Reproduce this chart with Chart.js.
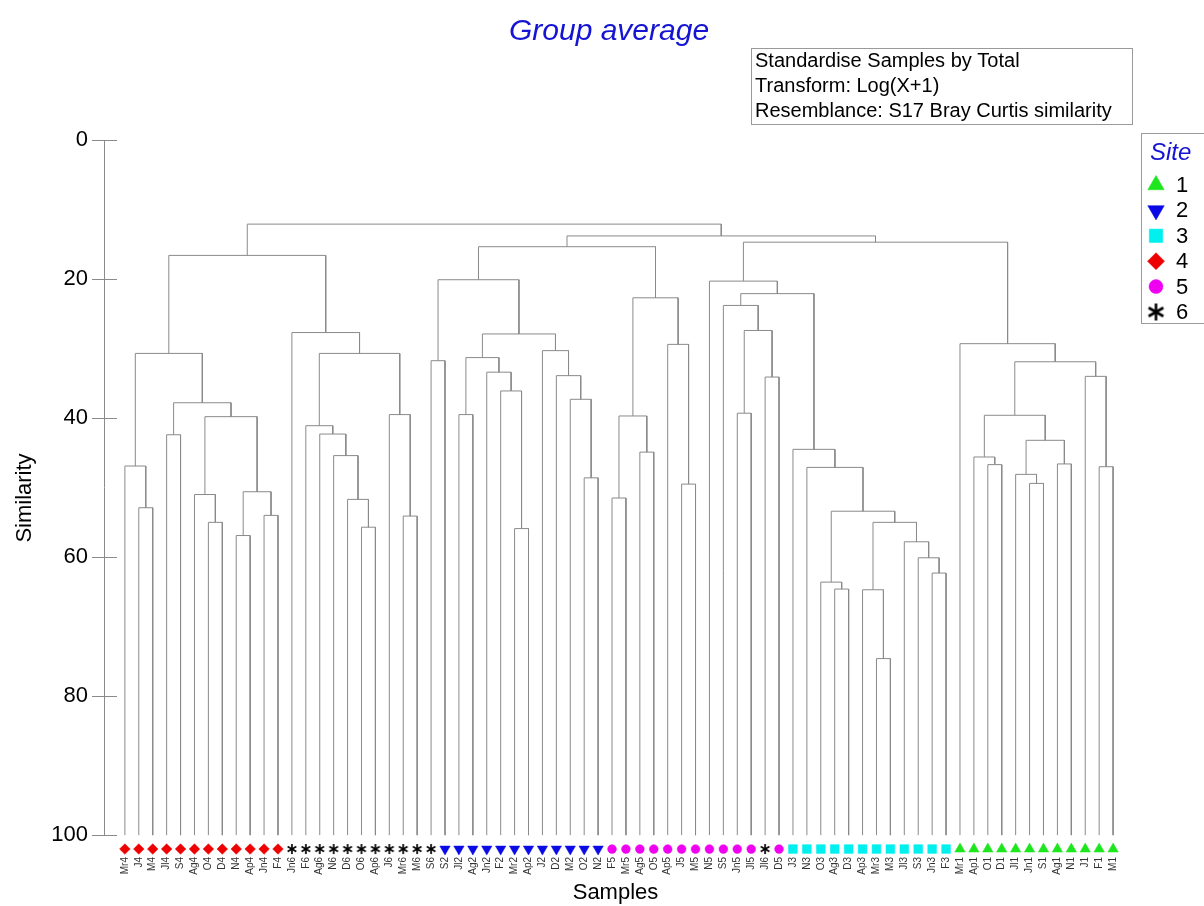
<!DOCTYPE html>
<html>
<head>
<meta charset="utf-8">
<title>Group average</title>
<script src="https://cdn.jsdelivr.net/npm/chart.js@4/dist/chart.umd.min.js"></script>
<style>
  html, body { margin: 0; padding: 0; background: #ffffff; }
  #wrap { width: 1204px; height: 906px; }
</style>
</head>
<body>
<div id="wrap"><canvas id="dendro" width="1204" height="906"></canvas></div>
<script>
// Leaf order of the dendrogram (the last digit of each sample is its site)
const samples = [
  "Mr4","J4","M4","Jl4","S4","Ag4","O4","D4","N4","Ap4","Jn4","F4",
  "Jn6","F6","Ag6","N6","D6","O6","Ap6","J6","Mr6","M6","S6",
  "S2","Jl2","Ag2","Jn2","F2","Mr2","Ap2","J2","D2","M2","O2","N2",
  "F5","Mr5","Ag5","O5","Ap5","J5","M5","N5","S5","Jn5","Jl5",
  "Jl6","D5",
  "J3","N3","O3","Ag3","D3","Ap3","Mr3","M3","Jl3","S3","Jn3","F3",
  "Mr1","Ap1","O1","D1","Jl1","Jn1","S1","Ag1","N1","J1","F1","M1"
];

// Site legend entries
const sites = ["1", "2", "3", "4", "5", "6"];

// Cluster joins: [cluster, left member, right member, similarity %]
const clusterJoins = [
  ["c1","J4","M4",52.9], ["c2","Mr4","c1",46.9], ["c3","Jl4","S4",42.4],
  ["c4","O4","D4",55.0], ["c5","Ag4","c4",51.0], ["c6","N4","Ap4",56.9],
  ["c7","Jn4","F4",54.0], ["c8","c6","c7",50.6], ["c9","c5","c8",39.8],
  ["c10","c3","c9",37.8], ["c11","c2","c10",30.7],
  ["c12","O6","Ap6",55.7], ["c13","D6","c12",51.7], ["c14","N6","c13",45.4],
  ["c15","Ag6","c14",42.3], ["c16","F6","c15",41.1], ["c17","Mr6","M6",54.1],
  ["c18","J6","c17",39.5], ["c19","c16","c18",30.7], ["c20","Jn6","c19",27.7],
  ["c21","c11","c20",16.6],
  ["c22","S6","S2",31.75], ["c23","Jl2","Ag2",39.5], ["c24","Mr2","Ap2",55.9],
  ["c25","F2","c24",36.1], ["c26","Jn2","c25",33.4], ["c27","c23","c26",31.3],
  ["c28","O2","N2",48.6], ["c29","M2","c28",37.3], ["c30","D2","c29",33.9],
  ["c31","J2","c30",30.3], ["c32","c27","c31",27.9], ["c33","c22","c32",20.1],
  ["c34","F5","Mr5",51.5], ["c35","Ag5","O5",44.9], ["c36","c34","c35",39.7],
  ["c37","J5","M5",49.5], ["c38","Ap5","c37",29.4], ["c39","c36","c38",22.7],
  ["c40","c33","c39",15.35],
  ["c41","Jn5","Jl5",39.3], ["c42","Jl6","D5",34.1], ["c43","c41","c42",27.4],
  ["c44","S5","c43",23.8],
  ["c45","Mr3","M3",74.6], ["c46","Ap3","c45",64.7], ["c47","Jn3","F3",62.3],
  ["c48","S3","c47",60.1], ["c49","Jl3","c48",57.8], ["c50","c46","c49",55.0],
  ["c51","Ag3","D3",64.6], ["c52","O3","c51",63.6], ["c53","c52","c50",53.4],
  ["c54","N3","c53",47.1], ["c55","J3","c54",44.5], ["c56","c44","c55",22.1],
  ["c57","N5","c56",20.3],
  ["c58","O1","D1",46.7], ["c59","Ap1","c58",45.6], ["c60","Jn1","S1",49.4],
  ["c61","Jl1","c60",48.1], ["c62","Ag1","N1",46.6], ["c63","c61","c62",43.2],
  ["c64","c59","c63",39.6], ["c65","F1","M1",47.0], ["c66","J1","c65",34.0],
  ["c67","c64","c66",31.9], ["c68","Mr1","c67",29.3], ["c69","c57","c68",14.7],
  ["c70","c40","c69",13.8], ["c71","c21","c70",12.1]
];

// Similarity axis tick values
const similarityTicks = [0, 20, 40, 60, 80, 100];

// ---- styling ----
const FONT = "'Liberation Sans', Arial, Helvetica, sans-serif";
const TREE_COLOR = "#8a8a8a";
const TITLE_BLUE = "#1414d2";
const LEAF_LEVEL = 102;   // marker row just under the 100 line

function makeAsterisk(size, lineWidth) {
  const c = document.createElement("canvas");
  c.width = size; c.height = size;
  const g = c.getContext("2d");
  const r = size / 2 - 1;
  g.strokeStyle = "#000";
  g.lineWidth = lineWidth;
  g.lineCap = "butt";
  for (let k = 0; k < 3; k++) {
    const a = Math.PI / 2 + k * Math.PI / 3;
    g.beginPath();
    g.moveTo(size / 2 - Math.cos(a) * r, size / 2 - Math.sin(a) * r);
    g.lineTo(size / 2 + Math.cos(a) * r, size / 2 + Math.sin(a) * r);
    g.stroke();
  }
  return c;
}

const siteStyle = {
  "1": { color: "#1ee61e", pointStyle: "triangle", radius: 6,   rotation: 0,   legendRadius: 9.5 },
  "2": { color: "#0a0ae6", pointStyle: "triangle", radius: 6,   rotation: 180, legendRadius: 9.5 },
  "3": { color: "#00f0f0", pointStyle: "rect",     radius: 6.2, rotation: 0,   legendRadius: 9.5 },
  "4": { color: "#ee0000", pointStyle: "rectRot",  radius: 5.3, rotation: 0,   legendRadius: 8.5 },
  "5": { color: "#f000f0", pointStyle: "circle",   radius: 4.4, rotation: 0,   legendRadius: 7 },
  "6": { color: "#000000", pointStyle: makeAsterisk(12, 1.7), radius: 6, rotation: 0,
         legendStyle: makeAsterisk(19, 2.6), legendRadius: 9 }
};

// ---- build dendrogram geometry from the joins ----
const nodes = {};
samples.forEach((s, i) => { nodes[s] = { x: i, h: 100 }; });
const treeSegments = [];
clusterJoins.forEach(([name, a, b, sim]) => {
  const L = nodes[a], R = nodes[b];
  treeSegments.push(
    { x: L.x, y: L.h }, { x: L.x, y: sim },
    { x: R.x, y: sim }, { x: R.x, y: R.h },
    { x: NaN, y: NaN }
  );
  nodes[name] = { x: (L.x + R.x) / 2, h: sim };
});

const siteOf = s => s.slice(-1);
const markerSets = sites.map(site => {
  const st = siteStyle[site];
  return {
    label: "Site " + site,
    data: samples.map((s, i) => ({ x: i, y: LEAF_LEVEL, s }))
                 .filter(p => siteOf(p.s) === site),
    showLine: false,
    pointStyle: st.pointStyle,
    pointRotation: st.rotation,
    radius: st.radius,
    pointRadius: st.radius,
    pointBackgroundColor: st.color,
    pointBorderColor: st.color,
    pointBorderWidth: site === "6" ? 0 : 0.5,
    order: 0
  };
});

// ---- annotation plugin: title, info box, legend, similarity axis line ----
const decorations = {
  id: "decorations",
  afterDraw(chart) {
    const ctx = chart.ctx;
    const y = chart.scales.y;
    const left = chart.chartArea.left;

    ctx.save();
    // vertical similarity axis from 0 to 100, ticks crossing it
    ctx.strokeStyle = "#8a8a8a";
    ctx.lineWidth = 1;
    ctx.beginPath();
    ctx.moveTo(left + 0.5, y.getPixelForValue(0));
    ctx.lineTo(left + 0.5, y.getPixelForValue(100));
    similarityTicks.forEach(v => {
      const py = Math.round(y.getPixelForValue(v)) + 0.5;
      ctx.moveTo(left, py);
      ctx.lineTo(left + 13, py);
    });
    ctx.stroke();

    // title
    ctx.fillStyle = TITLE_BLUE;
    ctx.font = "italic 30px " + FONT;
    ctx.textAlign = "center";
    ctx.textBaseline = "alphabetic";
    ctx.fillText("Group average", 609, 40);

    // analysis settings box
    ctx.strokeStyle = "#9a9a9a";
    ctx.strokeRect(751.5, 48.5, 381, 76);
    ctx.fillStyle = "#000";
    ctx.textAlign = "left";
    ctx.font = "20px " + FONT;
    ctx.fillText("Standardise Samples by Total", 755, 67);
    ctx.fillText("Transform: Log(X+1)", 755, 92);
    ctx.fillText("Resemblance: S17 Bray Curtis similarity", 755, 117);

    // site legend
    ctx.strokeStyle = "#9a9a9a";
    ctx.strokeRect(1141.5, 133.5, 80, 190);
    ctx.fillStyle = TITLE_BLUE;
    ctx.font = "italic 24px " + FONT;
    ctx.fillText("Site", 1150, 160);
    const helpers = Chart.helpers;
    sites.forEach((site, k) => {
      const st = siteStyle[site];
      const cy = 185 + k * 25.4;
      ctx.fillStyle = st.color;
      ctx.strokeStyle = st.color;
      ctx.lineWidth = 0.5;
      helpers.drawPoint(ctx, {
        pointStyle: st.legendStyle || st.pointStyle,
        radius: st.legendRadius,
        rotation: st.rotation,
        borderWidth: 0.5
      }, 1156, cy);
      ctx.fillStyle = "#000";
      ctx.font = "22px " + FONT;
      ctx.textBaseline = "middle";
      ctx.fillText(site, 1176, cy + 1);
      ctx.textBaseline = "alphabetic";
    });
    ctx.restore();
  }
};

new Chart(document.getElementById("dendro"), {
  type: "scatter",
  data: {
    datasets: [
      {
        label: "tree",
        data: treeSegments,
        showLine: true,
        spanGaps: false,
        borderColor: TREE_COLOR,
        borderWidth: 1,
        pointRadius: 0,
        order: 1
      },
      ...markerSets
    ]
  },
  options: {
    responsive: false,
    animation: false,
    devicePixelRatio: 1,
    layout: { padding: { top: 140, right: 77, left: 0, bottom: 0 } },
    plugins: {
      legend: { display: false },
      tooltip: { enabled: false },
      title: { display: false }
    },
    scales: {
      x: {
        type: "linear",
        min: -1.5,
        max: 72,
        grid: { display: false, drawTicks: false },
        border: { display: false },
        afterBuildTicks: scale => {
          scale.ticks = samples.map((_, i) => ({ value: i }));
        },
        ticks: {
          autoSkip: false,
          minRotation: 90,
          maxRotation: 90,
          padding: 1,
          color: "#333",
          font: { family: FONT, size: 10 },
          callback: v => samples[v]
        },
        title: {
          display: true,
          text: "Samples",
          color: "#000",
          font: { family: FONT, size: 22 },
          padding: 0
        },
        afterFit: scale => { scale.height = 50; }
      },
      y: {
        type: "linear",
        reverse: true,
        min: 0,
        max: 103,
        afterBuildTicks: scale => {
          scale.ticks = similarityTicks.map(v => ({ value: v }));
        },
        grid: {
          drawOnChartArea: false,
          drawTicks: true,
          tickLength: 12,
          color: "#8a8a8a"
        },
        border: { display: false },
        ticks: {
          padding: 4,
          color: "#000",
          font: { family: FONT, size: 22 }
        },
        title: {
          display: true,
          text: "Similarity",
          color: "#000",
          font: { family: FONT, size: 22 },
          padding: { top: 12, bottom: 0 }
        },
        afterFit: scale => { scale.width = 104; }
      }
    }
  },
  plugins: [decorations]
});
</script>
</body>
</html>
